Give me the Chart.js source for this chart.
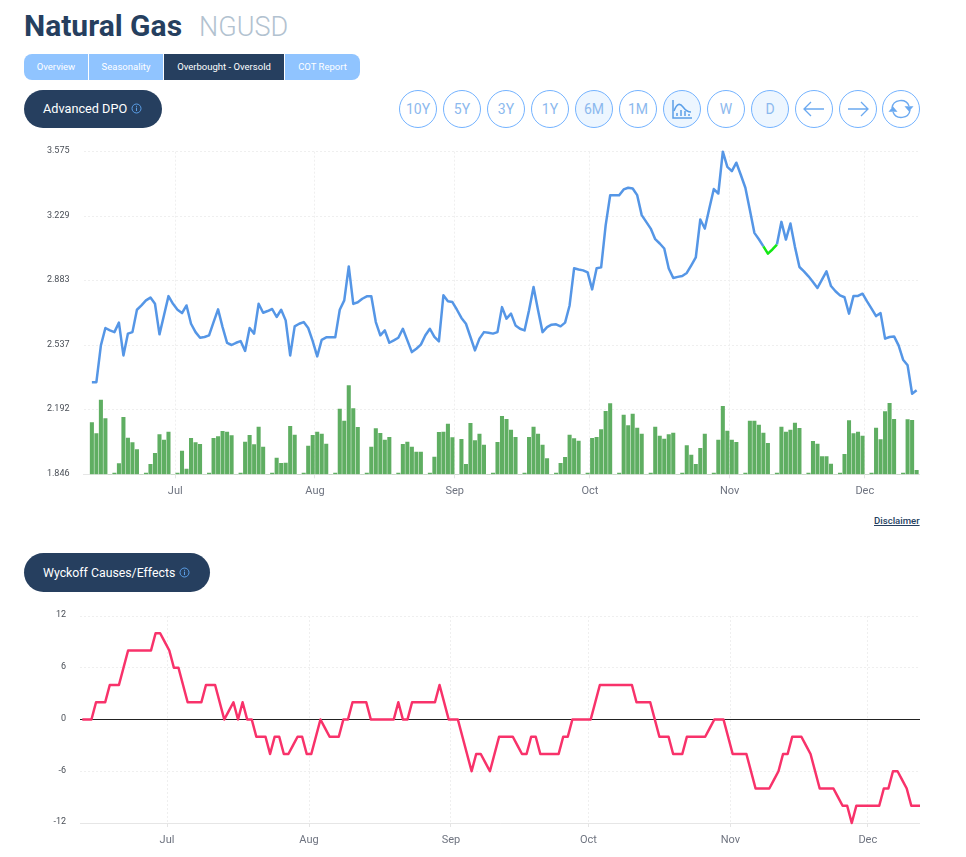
<!DOCTYPE html>
<html>
<head>
<meta charset="utf-8">
<title>Natural Gas NGUSD</title>
<script src="https://cdn.jsdelivr.net/npm/chart.js@4"></script>
<style>
    html, body { margin: 0; padding: 0; background: #fff; }
    body { width: 966px; height: 857px; position: relative; overflow: hidden; font-family: Roboto, sans-serif; }
    h1 { position: absolute; left: 24px; top: 9px; margin: 0; font-size: 30px; line-height: 34px; font-weight: 700; color: #263f5f; white-space: nowrap; }
    h1 span { margin-left: 17px; font-size: 27px; font-weight: 300; color: #b2c2d0; }
    .tabs { position: absolute; left: 24px; top: 54px; height: 26px; display: flex; }
    .tabs div { height: 26px; line-height: 26px; text-align: center; font-size: 9.5px; color: #fff; background: #90c4ff; border-right: 1px solid #fff; box-sizing: border-box; }
    .tabs div:first-child { border-radius: 8px 0 0 8px; }
    .tabs div:last-child { border-radius: 0 8px 8px 0; border-right: 0; }
    .tabs div.on { background: #263f5f; }
    .pill { position: absolute; left: 24px; background: #263f5f; color: #fff; border-radius: 20px; box-sizing: border-box; padding-left: 19px; white-space: nowrap; }
    .pill svg { vertical-align: -1px; margin-left: 1px; }
    .btn { position: absolute; top: 90px; width: 38px; height: 38px; box-sizing: border-box; border: 1px solid #74b3ff; border-radius: 50%; text-align: center; line-height: 36px; font-size: 14px; color: #8cb9ee; background: #fff; }
    .btn.on { background: #edf6ff; }
    .btn svg { position: absolute; left: 0; top: 0; }
    canvas { position: absolute; display: block; }
    .disc { position: absolute; left: 874px; top: 515px; font-size: 9.6px; font-weight: 500; color: #263f5f; text-decoration: underline; }
</style>
</head>
<body>
<h1>Natural Gas<span>NGUSD</span></h1>
<div class="tabs">
    <div style="width:65px">Overview</div>
    <div style="width:75px">Seasonality</div>
    <div class="on" style="width:121px">Overbought - Oversold</div>
    <div style="width:75px">COT Report</div>
</div>
<div class="pill" style="top:90px;width:138px;height:38px;line-height:37px;font-size:12.7px">Advanced DPO <svg width="11" height="11" viewBox="0 0 11 11"><circle cx="5.5" cy="5.5" r="4.5" fill="none" stroke="#5b9fe8"/><path d="M5.5 4.6v3.4M5.5 2.8v1" stroke="#5b9fe8"/></svg></div>
<div class="pill" style="top:553px;width:186px;height:39px;line-height:40px;font-size:12.3px">Wyckoff Causes/Effects <svg width="11" height="11" viewBox="0 0 11 11"><circle cx="5.5" cy="5.5" r="4.5" fill="none" stroke="#5b9fe8"/><path d="M5.5 4.6v3.4M5.5 2.8v1" stroke="#5b9fe8"/></svg></div>

<div class="btn" style="left:399px">10Y</div>
<div class="btn" style="left:443px">5Y</div>
<div class="btn" style="left:487px">3Y</div>
<div class="btn" style="left:531px">1Y</div>
<div class="btn on" style="left:575px">6M</div>
<div class="btn" style="left:619px">1M</div>
<div class="btn on" style="left:663px"><svg width="36" height="36" viewBox="0 0 36 36" fill="none" stroke="#5b9fe8" stroke-width="1.5"><path d="M9 9v18h19"/><path d="M10 20c3-8 6-8 9-4s5 5 8 5"/><path d="M13 25v-3M17 25v-6M21 25v-5M25 25v-2"/></svg></div>
<div class="btn" style="left:707px">W</div>
<div class="btn on" style="left:751px">D</div>
<div class="btn" style="left:795px"><svg width="36" height="36" viewBox="0 0 36 36" fill="none" stroke="#6ba9f0" stroke-width="1.3"><path d="M8 18h20M15 11l-7 7 7 7"/></svg></div>
<div class="btn" style="left:839px"><svg width="36" height="36" viewBox="0 0 36 36" fill="none" stroke="#6ba9f0" stroke-width="1.3"><path d="M8 18h20M21 11l7 7-7 7"/></svg></div>
<div class="btn" style="left:882px"><svg width="36" height="36" viewBox="0 0 36 36" fill="none" stroke="#6ba9f0" stroke-width="1.4"><path d="M9 17c1-9 14-10 17-2"/><path d="M27 19c-1 9-14 10-17 2"/><path d="M23 16h6l-3 3.500zM7 20h6l-3-3.500z" fill="#6ba9f0"/></svg></div>

<canvas id="dpo" width="896" height="365" style="left:24px;top:140px"></canvas>
<div class="disc">Disclaimer</div>
<canvas id="wyckoff" width="900" height="250" style="left:20px;top:604px"></canvas>

<script>
// one value per calendar day, first day is 19 days before 1 Jul
var firstDay = -19;
var monthLabels = ["Jul", "Aug", "Sep", "Oct", "Nov", "Dec"];
var monthStarts = [0, 31, 62, 92, 123, 153];

var priceTicks = [1.846, 2.192, 2.537, 2.883, 3.229, 3.575];
var causeTicks = [-12, -6, 0, 6, 12];

var prices = [
    2.340, 2.340, 2.537, 2.630, 2.617, 2.608, 2.659, 2.483, 2.600, 2.608,
    2.728, 2.751, 2.778, 2.793, 2.760, 2.596, 2.698, 2.801, 2.760, 2.728,
    2.710, 2.751, 2.653, 2.608, 2.578, 2.582, 2.591, 2.662, 2.730, 2.635,
    2.550, 2.539, 2.551, 2.560, 2.507, 2.630, 2.600, 2.760, 2.712, 2.721,
    2.732, 2.689, 2.728, 2.671, 2.483, 2.639, 2.653, 2.662, 2.630, 2.560,
    2.478, 2.567, 2.580, 2.580, 2.580, 2.728, 2.778, 2.960, 2.759, 2.768,
    2.787, 2.800, 2.800, 2.662, 2.591, 2.617, 2.551, 2.564, 2.578, 2.626,
    2.564, 2.501, 2.519, 2.541, 2.591, 2.626, 2.582, 2.558, 2.805, 2.773,
    2.769, 2.728, 2.684, 2.653, 2.582, 2.510, 2.573, 2.608, 2.605, 2.600,
    2.608, 2.742, 2.680, 2.707, 2.644, 2.626, 2.617, 2.725, 2.850, 2.725,
    2.608, 2.635, 2.648, 2.650, 2.639, 2.659, 2.751, 2.950, 2.944, 2.939,
    2.928, 2.837, 2.950, 2.955, 3.180, 3.341, 3.341, 3.341, 3.373, 3.382,
    3.378, 3.342, 3.235, 3.199, 3.163, 3.106, 3.083, 3.056, 2.949, 2.898,
    2.904, 2.909, 2.925, 2.966, 3.008, 3.212, 3.163, 3.271, 3.375, 3.351,
    3.575, 3.494, 3.471, 3.516, 3.450, 3.382, 3.262, 3.140, 3.106, 3.068,
    3.029, 3.051, 3.077, 3.199, 3.104, 3.190, 3.065, 2.957, 2.934, 2.907,
    2.877, 2.845, 2.889, 2.934, 2.855, 2.827, 2.805, 2.795, 2.707, 2.802,
    2.802, 2.814, 2.773, 2.734, 2.694, 2.710, 2.573, 2.582, 2.585, 2.537,
    2.460, 2.430, 2.278, 2.296
];

// this stretch of the price line is drawn in green
var greenFrom = 149;
var greenTo = 152;

var volumes = [
    155, 122, 223, 167, 0, 4, 32, 171, 109, 95,
    74, 0, 4, 30, 63, 119, 103, 127, 0, 4,
    70, 16, 108, 95, 90, 0, 4, 108, 113, 129,
    127, 116, 0, 4, 97, 117, 89, 142, 82, 0,
    4, 49, 33, 34, 144, 118, 0, 4, 85, 117,
    127, 121, 91, 0, 4, 196, 160, 266, 197, 141,
    0, 4, 82, 137, 123, 103, 111, 0, 4, 90,
    97, 82, 67, 67, 0, 4, 52, 126, 127, 151,
    110, 0, 105, 30, 153, 101, 121, 88, 0, 4,
    96, 174, 165, 133, 111, 0, 4, 111, 142, 121,
    88, 47, 0, 4, 33, 51, 118, 107, 100, 0,
    4, 108, 111, 134, 189, 212, 0, 4, 178, 146,
    181, 139, 121, 0, 4, 142, 115, 106, 119, 124,
    0, 4, 86, 58, 30, 78, 121, 0, 4, 103,
    204, 130, 103, 96, 0, 4, 160, 160, 148, 124,
    93, 0, 4, 142, 127, 133, 154, 138, 0, 4,
    99, 91, 53, 53, 31, 0, 4, 60, 161, 122,
    127, 115, 0, 4, 139, 104, 188, 213, 165, 0,
    4, 164, 162, 12
];

var causes = [
    0, 0, 0, 2, 2, 2, 4, 4, 4, 6,
    8, 8, 8, 8, 8, 8, 10, 10, 9, 8,
    6, 6, 4, 2, 2, 2, 2, 4, 4, 4,
    2, 0, 1, 2, 0, 2, 0, 0, -2, -2,
    -2, -4, -2, -2, -4, -4, -3, -2, -2, -4,
    -4, -2, 0, -1, -2, -2, -2, 0, 0, 2,
    2, 2, 2, 0, 0, 0, 0, 0, 0, 2,
    0, 0, 2, 2, 2, 2, 2, 2, 4, 2,
    0, 0, 0, -2, -4, -6, -4, -4, -5, -6,
    -4, -2, -2, -2, -2, -3, -4, -4, -2, -2,
    -4, -4, -4, -4, -4, -2, -2, 0, 0, 0,
    0, 0, 2, 4, 4, 4, 4, 4, 4, 4,
    4, 2, 2, 2, 2, 0, -2, -2, -2, -4,
    -4, -4, -2, -2, -2, -2, -2, -1, 0, 0,
    0, -2, -4, -4, -4, -4, -6, -8, -8, -8,
    -8, -7, -6, -4, -4, -2, -2, -2, -3, -4,
    -6, -8, -8, -8, -8, -9, -10, -10, -12, -10,
    -10, -10, -10, -10, -10, -8, -8, -6, -6, -7,
    -8, -10, -10, -10
];

function toPoints(values) {
    return values.map(function (v, i) {
        return { x: firstDay + i, y: v };
    });
}

function monthAxis(xMin, xMax, axisHeight, labelGap) {
    return {
        type: "linear",
        offset: false,
        min: xMin,
        max: xMax,
        afterBuildTicks: function (scale) {
            // grid lines sit half a day before the month's first mark
            scale.ticks = monthStarts.map(function (d) {
                return { value: d - 0.5 };
            });
        },
        afterFit: function (scale) {
            scale.height = axisHeight;
        },
        grid: { offset: false, color: "#efefef", tickColor: "#e4e4e4", tickLength: 4, tickBorderDash: [] },
        border: { color: "#e6e6e6", dash: [2, 2] },
        ticks: {
            autoSkip: false,
            maxRotation: 0,
            padding: labelGap,
            color: "#6f7480",
            font: { family: "Roboto", size: 11 },
            callback: function (value, index) {
                return monthLabels[index];
            },
        },
    };
}

function valueAxis(tickList, axisWidth, format) {
    return {
        min: tickList[0],
        max: tickList[tickList.length - 1],
        afterBuildTicks: function (scale) {
            scale.ticks = tickList.map(function (v) {
                return { value: v };
            });
        },
        afterFit: function (scale) {
            scale.width = axisWidth;
            // tick padding would otherwise push the plot down
            scale.paddingTop = 0;
            scale.paddingBottom = 0;
        },
        grid: { color: "#efefef", drawTicks: false },
        border: { display: false, dash: [2, 2] },
        ticks: {
            autoSkip: false,
            padding: 14,
            labelOffset: -1,
            color: "#4a4f57",
            font: { family: "Roboto", size: 9 },
            callback: format,
        },
    };
}

Chart.defaults.animation = false;
Chart.defaults.devicePixelRatio = 1;

new Chart(document.getElementById("dpo"), {
    data: {
        datasets: [
            {
                type: "line",
                data: toPoints(prices),
                borderColor: "#5596e6",
                borderWidth: 2.5,
                borderJoinStyle: "round",
                pointRadius: 0,
                tension: 0,
                clip: false,
                segment: {
                    borderColor: function (ctx) {
                        return ctx.p0DataIndex >= greenFrom && ctx.p0DataIndex < greenTo ? "#14e814" : undefined;
                    },
                },
            },
            {
                type: "bar",
                data: toPoints(volumes),
                yAxisID: "vol",
                backgroundColor: "#5fae62",
                barThickness: 3.4,
            },
        ],
    },
    options: {
        responsive: false,
        layout: { padding: { top: 11.7 } },
        plugins: { legend: { display: false }, tooltip: { enabled: false } },
        scales: {
            x: monthAxis(-20.86, 164.75, 30.7, 6),
            y: valueAxis(priceTicks, 59.5, function (v) {
                return v.toFixed(3);
            }),
            vol: { display: false, min: 0, max: 968 },
        },
    },
});

new Chart(document.getElementById("wyckoff"), {
    type: "line",
    data: {
        datasets: [
            {
                data: toPoints(causes),
                borderColor: "#f8326a",
                borderWidth: 2.5,
                borderJoinStyle: "round",
                pointRadius: 0,
                tension: 0,
                clip: false,
            },
            {
                // zero line across the whole plot
                data: [{ x: -19.5, y: 0 }, { x: 163.9, y: 0 }],
                borderColor: "#222222",
                borderWidth: 1,
                pointRadius: 0,
            },
        ],
    },
    options: {
        responsive: false,
        layout: { padding: { top: 12 } },
        plugins: { legend: { display: false }, tooltip: { enabled: false } },
        scales: {
            x: monthAxis(-19.5, 163.9, 31, 7),
            y: valueAxis(causeTicks, 60, function (v) {
                return String(v);
            }),
        },
    },
});
</script>
</body>
</html>
